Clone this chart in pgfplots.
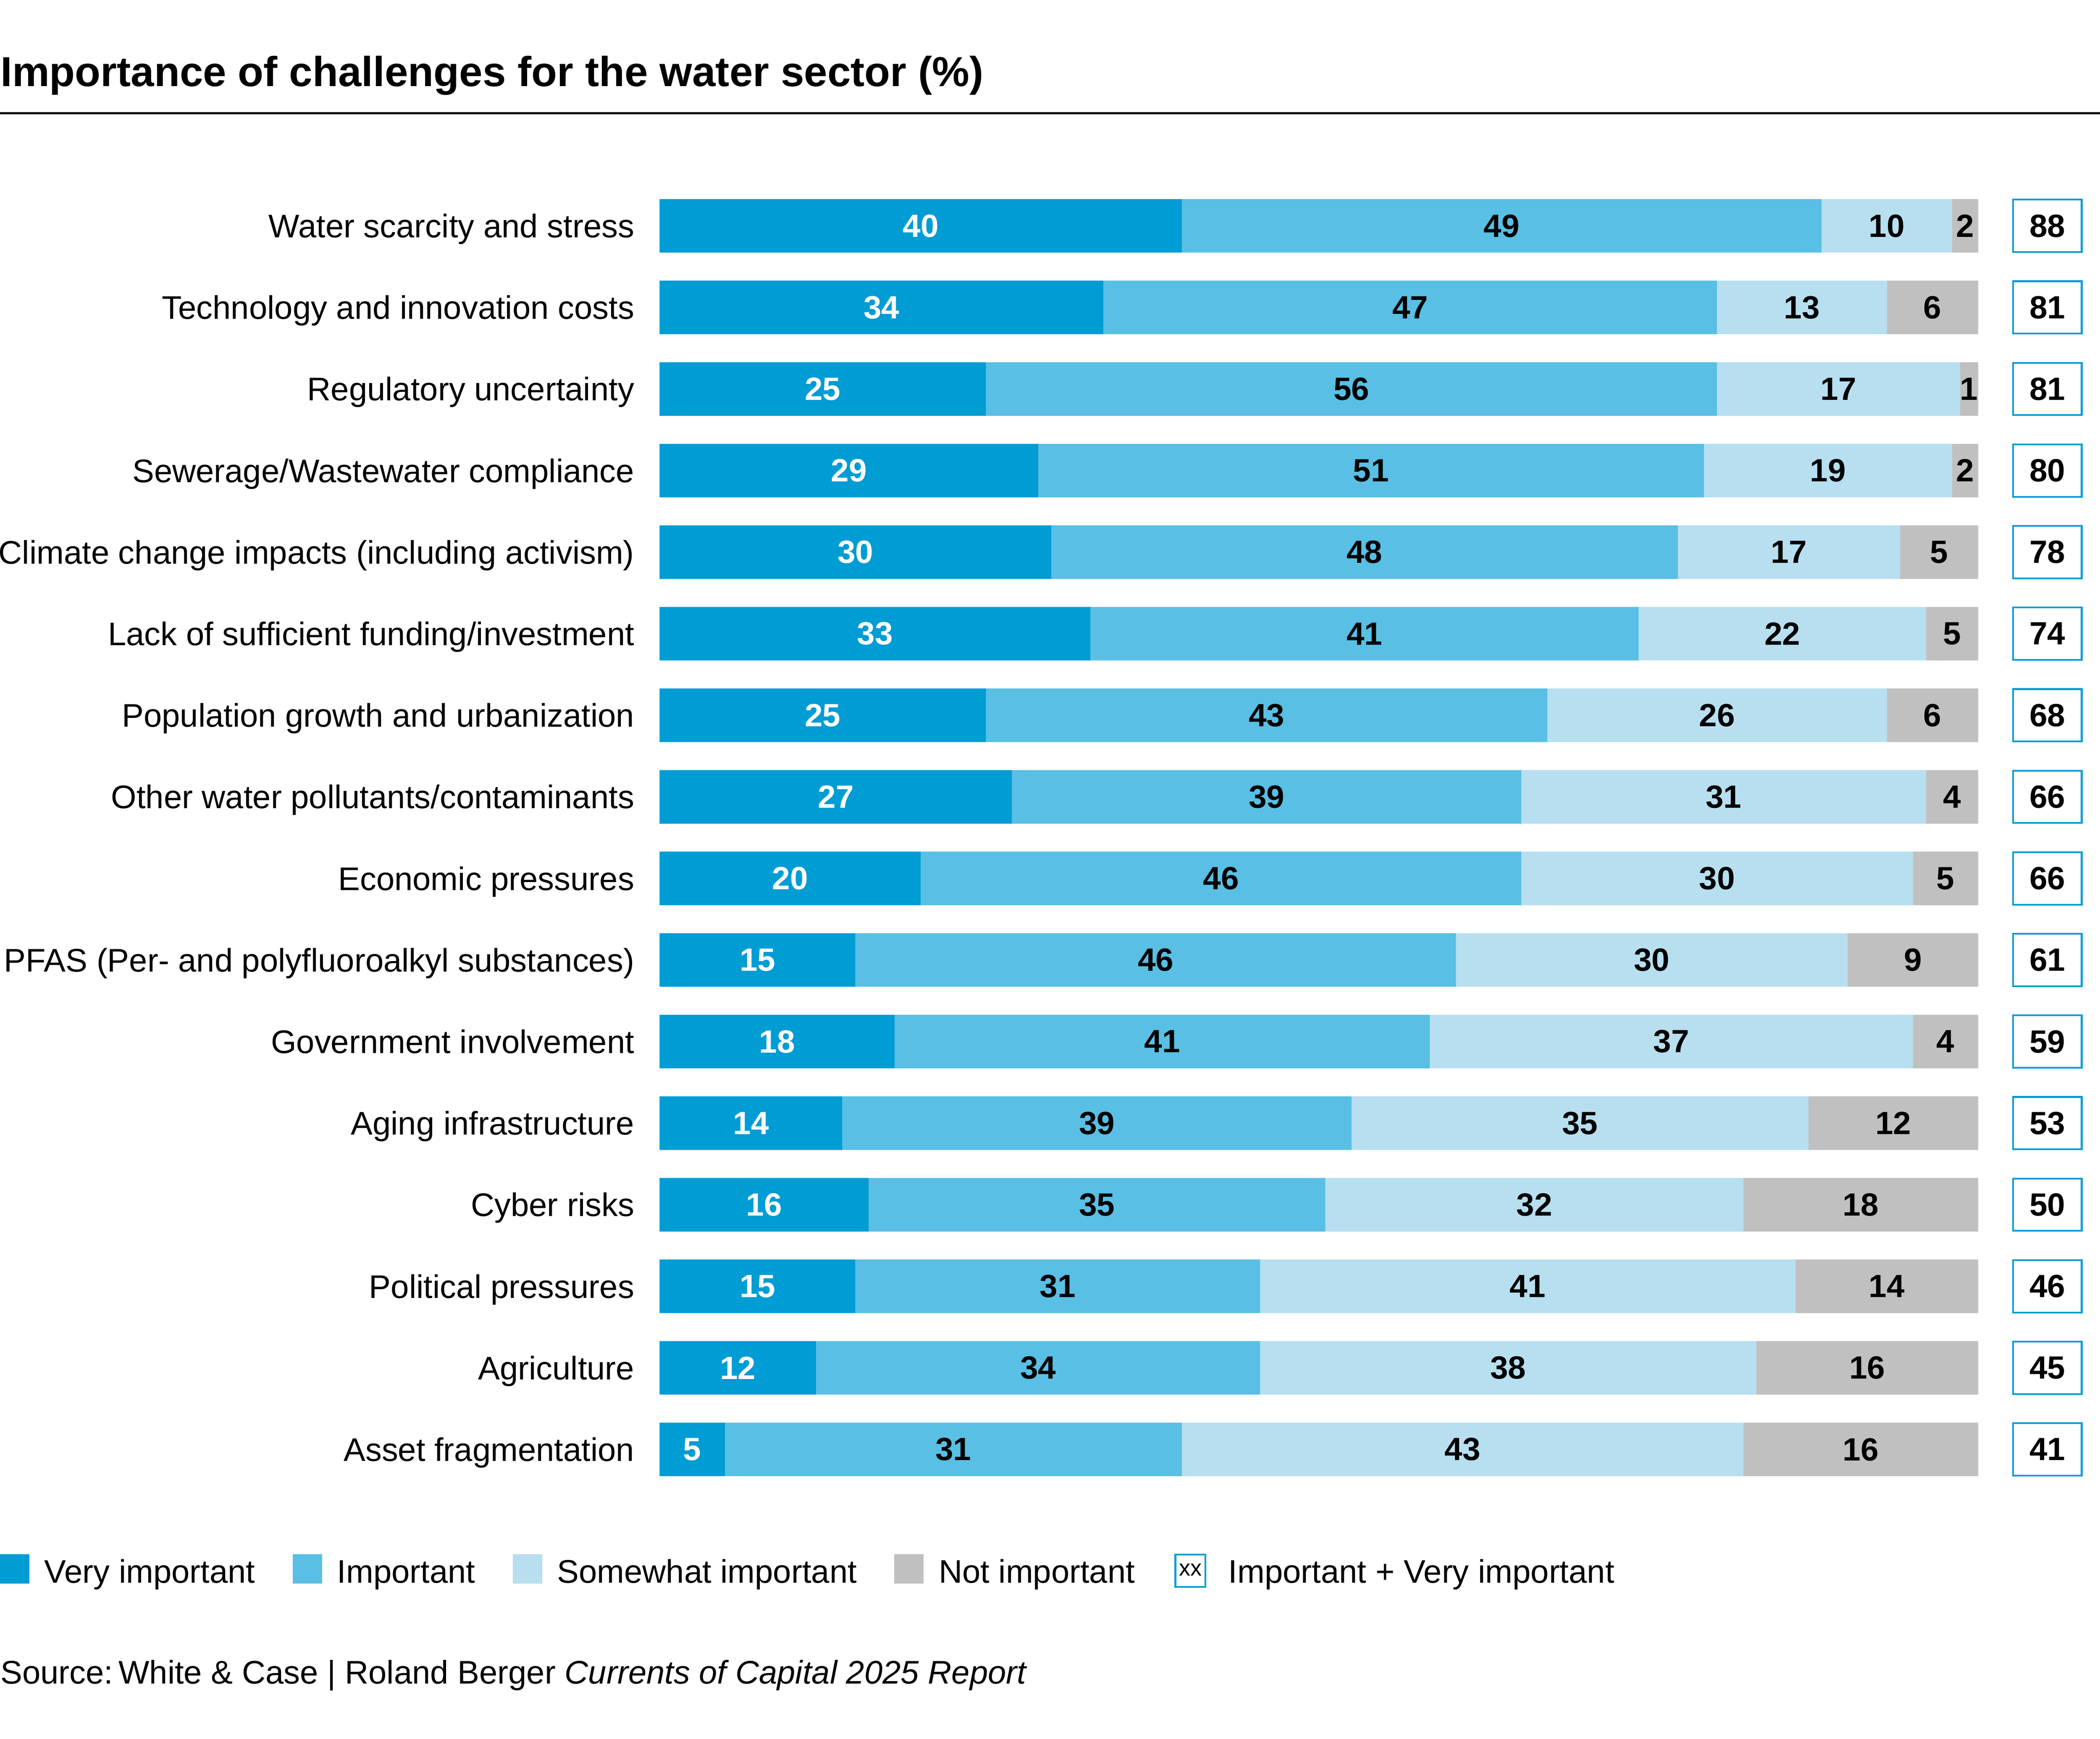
\documentclass[border=0pt]{standalone}
\usepackage{fontspec}
\setmainfont{Liberation Sans}
\usepackage{pgfplots}
\pgfplotsset{compat=1.18}
\definecolor{vimp}{HTML}{009CD4}
\definecolor{imp}{HTML}{59BFE4}
\definecolor{swi}{HTML}{B7DFF0}
\definecolor{nimp}{HTML}{C0C0C0}
\newcommand\lab{\fontsize{12.2}{14}\selectfont}
\newcommand\vlab{\bfseries\fontsize{12}{14}\selectfont}
\begin{document}
\begin{tikzpicture}
\path[use as bounding box] (0pt,0pt) rectangle (784pt,-649pt);
\node[anchor=base west, inner sep=0pt, font=\bfseries\fontsize{15.65}{18}\selectfont] at (0pt,-32.25pt) {Importance of challenges for the water sector (\%)};
\draw[line width=0.8pt] (0pt,-42.25pt) -- (784pt,-42.25pt);
\node[anchor=base west, inner sep=0pt, font=\lab] at (0pt,-628.5pt) {Source:\,White \& Case | Roland Berger \textit{Currents of Capital 2025 Report}};
\begin{axis}[
  at={(246.25pt,-69.07pt)}, anchor=north west,
  scale only axis, width=492.25pt, height=487.2pt,
  xbar stacked, bar width=20pt,
  xmin=0, xmax=101, ymin=0.5, ymax=16.5, y dir=reverse,
  axis line style={draw=none}, major tick length=0pt, tick style={draw=none},
  xtick=\empty, ytick={1,...,16},
  yticklabels={Water scarcity and stress, Technology and innovation costs, Regulatory uncertainty, Sewerage/Wastewater compliance, Climate change impacts (including activism), Lack of sufficient funding/investment, Population growth and urbanization, Other water pollutants/contaminants, Economic pressures, PFAS (Per- and polyfluoroalkyl substances), Government involvement, Aging infrastructure, Cyber risks, Political pressures, Agriculture, Asset fragmentation},
  yticklabel style={font=\lab, anchor=base east, inner sep=0pt, xshift=-9.25pt, yshift=-4.37pt},
  clip=false,
  legend columns=5,
  legend cell align=left,
  legend style={draw=none, fill=none, inner sep=0pt, outer sep=0pt,
    at={(axis description cs:-0.50025,-0.0616)}, anchor=west,
    cells={anchor=base west},
    nodes={inner sep=0pt, font=\lab},
    /tikz/every odd column/.append style={column sep=5.6pt},
    /tikz/every even column/.append style={column sep=14pt}},
  legend image code/.code={\fill[#1,draw=none] (0pt,-0.3pt) rectangle (11pt,10.75pt);},
  seg/.style 2 args={fill=#1, draw=none, nodes near coords, point meta=explicit symbolic,
    every node near coord/.style={anchor=center, font=\vlab, text=#2, inner sep=0pt}},
]
\addplot[seg={vimp}{white}] coordinates {(40,1)[40] (34,2)[34] (25,3)[25] (29,4)[29] (30,5)[30] (33,6)[33] (25,7)[25] (27,8)[27] (20,9)[20] (15,10)[15] (18,11)[18] (14,12)[14] (16,13)[16] (15,14)[15] (12,15)[12] (5,16)[5]};
\addlegendentry{Very important}
\addplot[seg={imp}{black}] coordinates {(49,1)[49] (47,2)[47] (56,3)[56] (51,4)[51] (48,5)[48] (42,6)[41] (43,7)[43] (39,8)[39] (46,9)[46] (46,10)[46] (41,11)[41] (39,12)[39] (35,13)[35] (31,14)[31] (34,15)[34] (35,16)[31]};
\addlegendentry{Important}
\addplot[seg={swi}{black}] coordinates {(10,1)[10] (13,2)[13] (18.6,3)[17] (19,4)[19] (17,5)[17] (22,6)[22] (26,7)[26] (31,8)[31] (30,9)[30] (30,10)[30] (37,11)[37] (35,12)[35] (32,13)[32] (41,14)[41] (38,15)[38] (43,16)[43]};
\addlegendentry{Somewhat important}
\addplot[seg={nimp}{black}] coordinates {(2,1)[2] (7,2)[6] (1.4,3)[1] (2,4)[2] (6,5)[5] (4,6)[5] (7,7)[6] (4,8)[4] (5,9)[5] (10,10)[9] (5,11)[4] (13,12)[12] (18,13)[18] (14,14)[14] (17,15)[16] (18,16)[16]};
\addlegendentry{Not important}
\addlegendimage{legend image code/.code={\draw[vimp, line width=0.65pt, fill=white] (1.1pt,-1.45pt) rectangle (12.3pt,10.65pt); \node[anchor=center, inner sep=0pt, font=\fontsize{8.5}{9}\selectfont, text=black] at (6.7pt,4.1pt) {xx}; \path[draw=none] (0pt,0pt) -- (15.3pt,0pt);}}
\addlegendentry{Important + Very important}
\end{axis}
\begin{axis}[
  at={(246.25pt,-69.07pt)}, anchor=north west,
  scale only axis, width=492.25pt, height=487.2pt,
  xmin=0, xmax=101, ymin=0.5, ymax=16.5, y dir=reverse,
  hide axis, clip=false]
\addplot[only marks, mark=none, nodes near coords, point meta=explicit symbolic,
  every node near coord/.style={anchor=center, draw=vimp, line width=0.65pt, minimum width=25.65pt, minimum height=19.55pt, inner sep=0pt, font=\vlab, text=black, fill=white}]
  coordinates {(106.3,1)[88] (106.3,2)[81] (106.3,3)[81] (106.3,4)[80] (106.3,5)[78] (106.3,6)[74] (106.3,7)[68] (106.3,8)[66] (106.3,9)[66] (106.3,10)[61] (106.3,11)[59] (106.3,12)[53] (106.3,13)[50] (106.3,14)[46] (106.3,15)[45] (106.3,16)[41]};
\end{axis}
\end{tikzpicture}
\end{document}
